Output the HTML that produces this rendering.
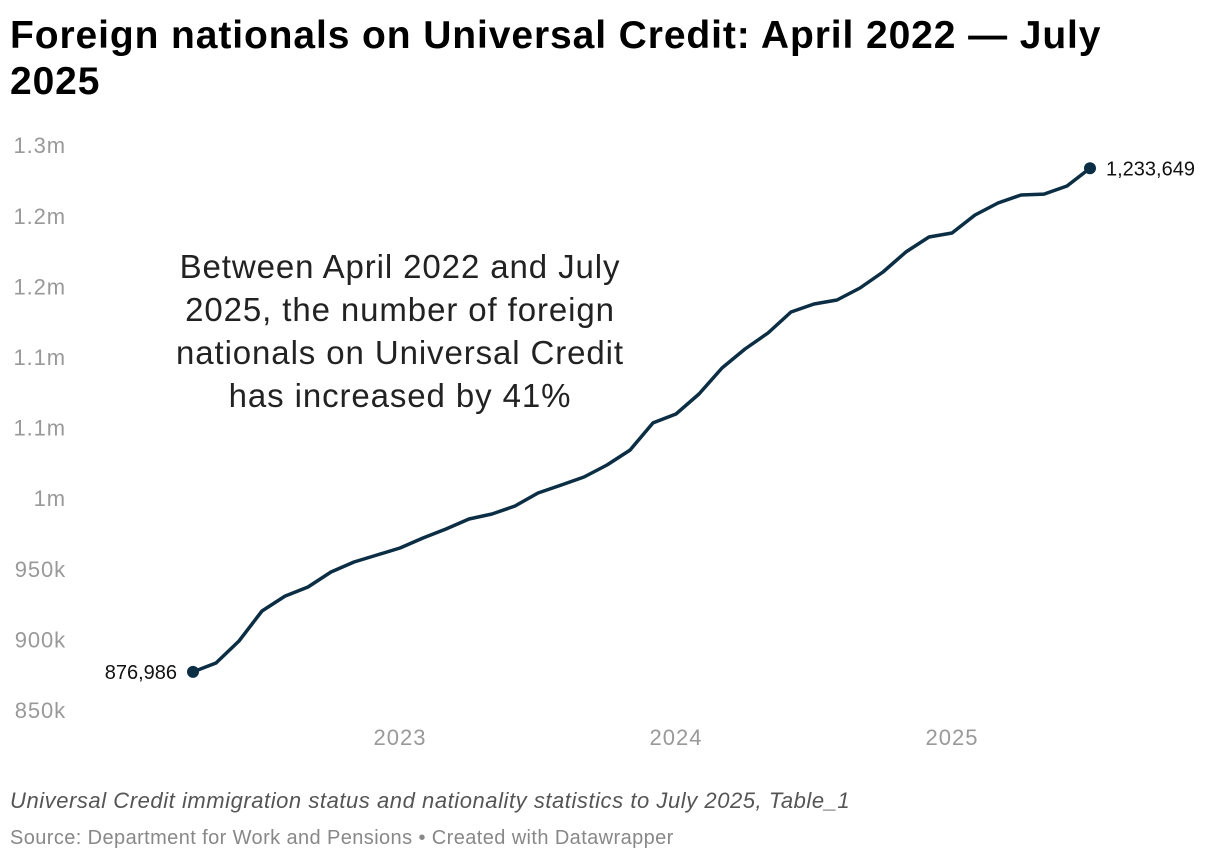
<!DOCTYPE html>
<html><head><meta charset="utf-8">
<style>
body{margin:0;background:#fff;width:1220px;height:864px;overflow:hidden;font-family:"Liberation Sans",sans-serif;}
#title{position:absolute;left:10px;top:13px;width:1120px;font-size:39px;font-weight:bold;line-height:46px;color:#000;margin:0;letter-spacing:0.9px;}
#note{position:absolute;left:10px;top:788px;font-size:22px;font-style:italic;color:#555;letter-spacing:0.55px;}
#source{position:absolute;left:10px;top:827px;font-size:20px;color:#888;letter-spacing:0.4px;}
svg{position:absolute;left:0;top:0;}
</style></head><body>
<h1 id="title">Foreign nationals on Universal Credit: April 2022 — July 2025</h1>
<svg id="chart" width="1220" height="864"></svg>
<div id="note">Universal Credit immigration status and nationality statistics to July 2025, Table_1</div>
<div id="source">Source: Department for Work and Pensions • Created with Datawrapper</div>
<script>
const startYear = 2022, startMonth = 3; // April 2022 (0-based month)
const values = [876986,883300,898900,920100,930700,937100,947700,954800,959800,964700,971800,978200,985300,988800,994500,1003700,1009300,1015000,1023500,1034100,1053300,1059600,1073800,1092200,1105700,1117000,1131900,1137500,1140400,1148900,1160200,1174400,1185000,1187800,1200600,1209100,1214700,1215400,1221100,1233649];
const yTicks = [850000,900000,950000,1000000,1050000,1100000,1150000,1200000,1250000];
const yTickLabels = ["850k","900k","950k","1m","1.1m","1.1m","1.2m","1.2m","1.3m"];
const xTicks = [2023,2024,2025];
const xTickLabels = ["2023","2024","2025"];

const NS="http://www.w3.org/2000/svg";
const svg=document.getElementById('chart');
function yS(v){return 710-(v-850000)*0.001412;}
function xS(monthsFromJan2022){return 400+(monthsFromJan2022-12)*23;}
function mk(tag,attrs,text){const e=document.createElementNS(NS,tag);for(const k in attrs)e.setAttribute(k,attrs[k]);if(text!==undefined)e.textContent=text;svg.appendChild(e);return e;}

yTicks.forEach((t,i)=>{
  const e=mk('text',{x:66,y:yS(t)+8,'font-size':22,fill:'#999','text-anchor':'end','letter-spacing':'0.9','font-family':'Liberation Sans, sans-serif'},yTickLabels[i]);
  
  
});
xTicks.forEach((t,i)=>{
  const e=mk('text',{x:xS((t-2022)*12),y:745,'font-size':22,fill:'#999','text-anchor':'middle','letter-spacing':'1','font-family':'Liberation Sans, sans-serif'},xTickLabels[i]);
  
  
});
const pts=values.map((v,i)=>[xS(startMonth+i),yS(v)]);
const line=mk('path',{d:'M'+pts.map(p=>p[0].toFixed(1)+','+p[1].toFixed(1)).join('L'),fill:'none',stroke:'#0b2e44','stroke-width':3.5,'stroke-linejoin':'round'});


[0,values.length-1].forEach(i=>{
  const c=mk('circle',{cx:pts[i][0],cy:pts[i][1],r:6,fill:'#0b2e44'});
  
  
  const t=mk('text',{x:i===0?pts[i][0]-16:pts[i][0]+16,y:pts[i][1]+7,'font-size':20,fill:'#111','text-anchor':i===0?'end':'start','font-family':'Liberation Sans, sans-serif'},values[i].toLocaleString('en-US'));
  
  
});
const ann=["Between April 2022 and July","2025, the number of foreign","nationals on Universal Credit","has increased by 41%"];
ann.forEach((l,i)=>{
  const t=mk('text',{x:400,y:278+i*43,'font-size':33,fill:'#222','text-anchor':'middle','letter-spacing':'0.9','font-family':'Liberation Sans, sans-serif'},l);
  
  
});
</script>
</body></html>
